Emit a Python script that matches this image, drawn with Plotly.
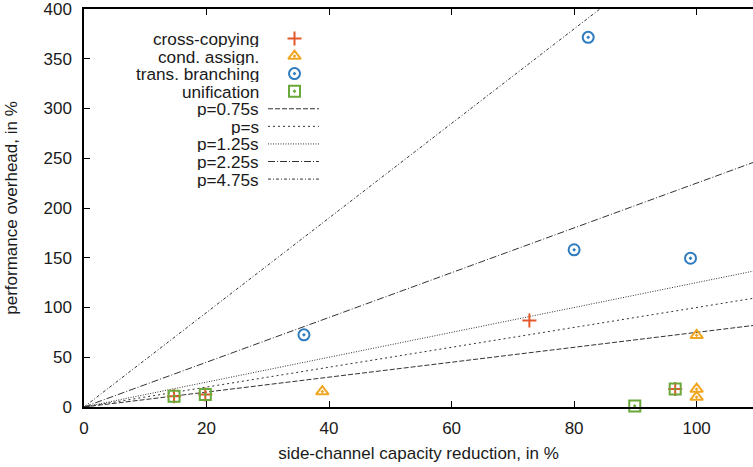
import plotly.graph_objects as go

# ---- data ----
cross_x = [14.7, 19.8, 72.7, 96.5]
cross_y = [10.8, 12.5, 87, 18]
cond_x = [38.9, 100, 100, 100]
cond_y = [15.5, 72, 18, 10]
trans_x = [35.9, 80.0, 99.0, 82.3]
trans_y = [72.5, 158, 149.5, 371.5]
unif_x = [14.7, 19.8, 89.9, 96.5]
unif_y = [10.8, 12.5, 1, 18]

slopes = [0.75, 1.0, 1.25, 2.25, 4.75]
line_names = ["p=0.75s", "p=s", "p=1.25s", "p=2.25s", "p=4.75s"]
line_x = [0, 110]

x_ticks = [0, 20, 40, 60, 80, 100]
y_ticks = [0, 50, 100, 150, 200, 250, 300, 350, 400]

series_names = ["cross-copying", "cond. assign.", "trans. branching", "unification"]

# ---- styles ----
FONT = "Liberation Sans, Arial, Helvetica, sans-serif"
C_CROSS = "#e4572a"
C_COND = "#f0a623"
C_TRANS = "#2f7bbf"
C_UNIF = "#6aa83a"
LINE_C = "#333333"
dashes = ["5px,2px", "2px,3px", "1px,1.5px", "7px,2px,1px,2px", "3px,2px,1px,2px"]

series_styles = [
    dict(symbol="cross-thin-open", size=10, color=C_CROSS, line=dict(color=C_CROSS, width=2)),
    dict(symbol="triangle-up-open-dot", size=11, color=C_COND, line=dict(color=C_COND, width=2)),
    dict(symbol="circle-open-dot", size=11, color=C_TRANS, line=dict(color=C_TRANS, width=2)),
    dict(symbol="square-open-dot", size=11, color=C_UNIF, line=dict(color=C_UNIF, width=2)),
]

W, H = 753, 467
L, R, T, B = 84, 0, 9, 59.5

fig = go.Figure()

for k, nm, d in zip(slopes, line_names, dashes):
    fig.add_trace(go.Scatter(x=line_x, y=[k * v for v in line_x], mode="lines",
                             line=dict(color=LINE_C, width=1, dash=d),
                             name=nm, showlegend=False, hoverinfo="skip"))

for xs, ys, st, nm in zip([cross_x, cond_x, trans_x, unif_x],
                          [cross_y, cond_y, trans_y, unif_y],
                          series_styles, series_names):
    fig.add_trace(go.Scatter(x=xs, y=ys, mode="markers", marker=st, name=nm,
                             showlegend=False, cliponaxis=False))

# ---- custom legend (text right-aligned, sample on the right) ----
pw = W - L - R
ph = H - T - B
def fx(px):
    return (px - L) / pw
def fy(py):
    return (H - B - py) / ph

row0, drow = 38.5, 17.6
text_right = 258
sym_x = 294.5
seg = (268, 319)

annotations = []
shapes = []
all_names = series_names + line_names
for i, nm in enumerate(all_names):
    yy = fy(row0 + i * drow)
    annotations.append(dict(x=fx(text_right), y=yy, xref="paper", yref="paper",
                            text=nm, showarrow=False, xanchor="right", yanchor="middle",
                            xshift=2, borderpad=0, height=17, valign="middle",
                            font=dict(family=FONT, size=17.2, color="#1a1a1a")))
for i, st in enumerate(series_styles):
    yy = fy(row0 + i * drow)
    fig.add_trace(go.Scatter(x=[fx(sym_x)], y=[yy], xaxis="x2", yaxis="y2",
                             mode="markers", marker=st, showlegend=False,
                             hoverinfo="skip", cliponaxis=False))
for j, d in enumerate(dashes):
    yy = fy(row0 + (len(series_names) + j) * drow)
    shapes.append(dict(type="line", xref="paper", yref="paper",
                       x0=fx(seg[0]), x1=fx(seg[1]), y0=yy, y1=yy,
                       line=dict(color=LINE_C, width=1, dash=d)))

fig.update_layout(
    width=W, height=H,
    margin=dict(l=L, r=R, t=T, b=B, pad=0),
    paper_bgcolor="white", plot_bgcolor="white",
    font=dict(family=FONT, size=17, color="#1a1a1a"),
    showlegend=False,
    annotations=annotations,
    shapes=shapes,
    xaxis=dict(range=[0, 109.2], tickvals=x_ticks, ticks="inside", ticklen=6,
               tickwidth=1.2, tickcolor="#000", showline=True, linecolor="#000",
               linewidth=1.5, mirror="ticks", showgrid=False, zeroline=False,
               tickfont=dict(size=17), ticklabelstandoff=5, ticklabeloverflow="allow",
               title=dict(text="side-channel capacity reduction, in %",
                          font=dict(size=17), standoff=10)),
    yaxis=dict(range=[0, 400], tickvals=y_ticks, ticks="inside", ticklen=6,
               tickwidth=1.2, tickcolor="#000", showline=True, linecolor="#000",
               linewidth=1.5, mirror=False, showgrid=False, zeroline=False,
               tickfont=dict(size=17), ticklabelstandoff=7, ticklabeloverflow="allow",
               title=dict(text="performance overhead, in %",
                          font=dict(size=17), standoff=22)),
    xaxis2=dict(overlaying="x", range=[0, 1], visible=False),
    yaxis2=dict(overlaying="y", range=[0, 1], visible=False),
)

fig.write_html("out.html", config={"displayModeBar": False},
               post_script="document.body.style.margin='0';document.body.style.overflow='hidden';")
